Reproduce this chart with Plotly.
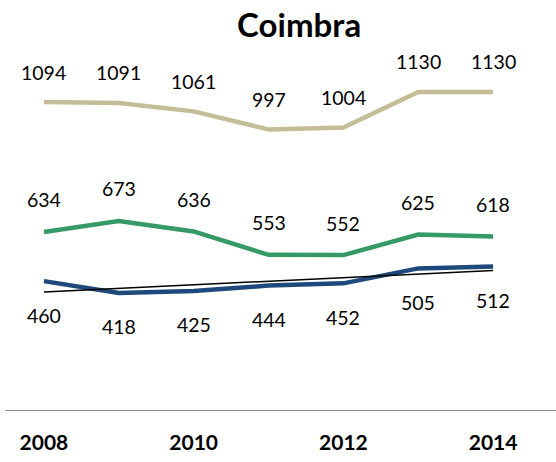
import numpy as np
import plotly.graph_objects as go

# data
years = [2008, 2009, 2010, 2011, 2012, 2013, 2014]
tan_vals = [1094, 1091, 1061, 997, 1004, 1130, 1130]
green_vals = [634, 673, 636, 553, 552, 625, 618]
blue_vals = [460, 418, 425, 444, 452, 505, 512]
tick_years = [2008, 2010, 2012, 2014]

TAN = "#C4BD97"
GREEN = "#359A66"
BLUE = "#1F497D"
FONT = "Lato, Open Sans, sans-serif"

fig = go.Figure()

for vals, col in [(tan_vals, TAN), (green_vals, GREEN), (blue_vals, BLUE)]:
    fig.add_trace(go.Scatter(x=years, y=vals, mode="lines",
                             line=dict(color=col, width=4.5), hoverinfo="x+y"))

# linear trend of the blue series
slope, inter = np.polyfit(years, blue_vals, 1)
trend = [slope * yr + inter for yr in years]
fig.add_trace(go.Scatter(x=years, y=trend, mode="lines",
                         line=dict(color="black", width=1.5), hoverinfo="skip"))

# value labels
for vals, shift in [(tan_vals, 30), (green_vals, 32), (blue_vals, -34)]:
    for yr, v in zip(years, vals):
        fig.add_annotation(x=yr, y=v, text=str(v), showarrow=False,
                           yshift=shift, yanchor="middle",
                           font=dict(size=19.5, color="black", family=FONT))

fig.update_layout(
    width=556, height=462,
    paper_bgcolor="white", plot_bgcolor="white",
    showlegend=False,
    margin=dict(l=5, r=0, t=10, b=51),
    title=dict(text="<b>Coimbra</b>", x=0.538, xanchor="center",
               y=0.945, yanchor="middle",
               font=dict(size=33, color="black", family=FONT)),
    xaxis=dict(range=[2007.48, 2014.84], tickvals=tick_years,
               ticktext=["<b>%d</b>" % y for y in tick_years],
               showgrid=False, zeroline=False, showline=False,
               ticks="", ticklabelstandoff=17,
               tickfont=dict(size=21, color="black", family=FONT)),
    yaxis=dict(range=[0, 1420], visible=False, showgrid=False, zeroline=False),
)

# category axis line at zero
fig.add_shape(type="line", xref="paper", yref="y", x0=0, x1=1, y0=0, y1=0,
              line=dict(color="#8C8C8C", width=2))

fig.write_html("out.html", config={"displayModeBar": False},
               post_script="document.body.style.margin='0';")
